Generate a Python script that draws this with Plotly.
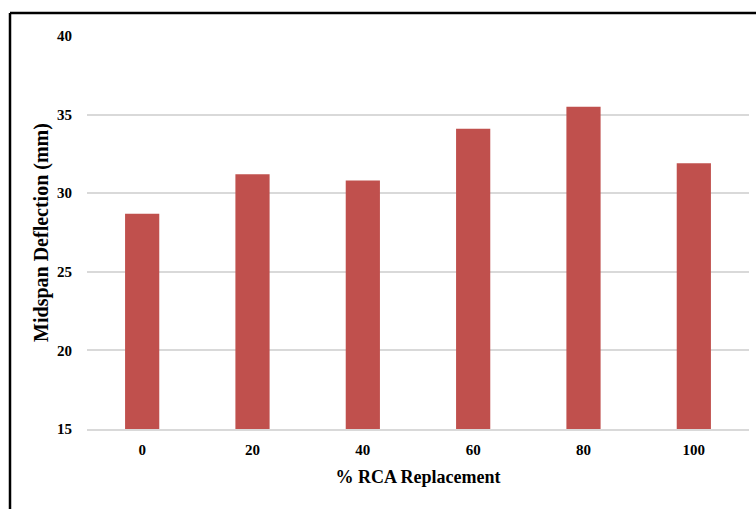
import plotly.graph_objects as go

categories = ["0", "20", "40", "60", "80", "100"]
deflection = [28.7, 31.2, 30.8, 34.1, 35.5, 31.9]
y_ticks = [15, 20, 25, 30, 35, 40]

W, H = 756, 509
L, R, T, B = 87, 7, 36, 80
pw, ph = W - L - R, H - T - B

def px_x(x):
    return (x - L) / pw

def px_y(y):
    return 1 - (y - T) / ph

fig = go.Figure(go.Bar(
    x=categories, y=deflection,
    marker=dict(color="#C0504D", line=dict(width=0)),
    width=0.31,
))

font = "Liberation Serif, Times New Roman, serif"
fig.update_layout(
    width=W, height=H,
    margin=dict(l=L, r=R, t=T, b=B),
    paper_bgcolor="white", plot_bgcolor="white",
    showlegend=False,
    font=dict(family=font, color="black"),
    xaxis=dict(
        type="category",
        title=dict(text="% RCA Replacement", font=dict(size=18, family=font, weight="bold"), standoff=14),
        tickfont=dict(size=15, family=font, weight="bold"),
        ticklabelstandoff=6,
        showgrid=False, showline=True, linecolor="#d9d9d9", linewidth=1.5,
    ),
    yaxis=dict(
        range=[15, 40], tickvals=y_ticks,
        title=dict(text="Midspan Deflection (mm)", font=dict(size=20, family=font, weight="bold"), standoff=3),
        tickfont=dict(size=15, family=font, weight="bold"),
        ticklabelstandoff=14,
        showgrid=True, gridcolor="#d9d9d9", gridwidth=1.5,
        zeroline=False, showline=False,
    ),
    shapes=[
        dict(type="line", xref="paper", yref="paper",
             x0=px_x(10), x1=px_x(W + 5), y0=px_y(13), y1=px_y(13),
             line=dict(color="black", width=2.5)),
        dict(type="line", xref="paper", yref="paper",
             x0=px_x(10), x1=px_x(10), y0=px_y(13), y1=px_y(H + 5),
             line=dict(color="black", width=2.5)),
    ],
)

fig.write_html("out.html", config={"displayModeBar": False},
               post_script="document.body.style.margin='0';document.body.style.overflow='hidden';")
